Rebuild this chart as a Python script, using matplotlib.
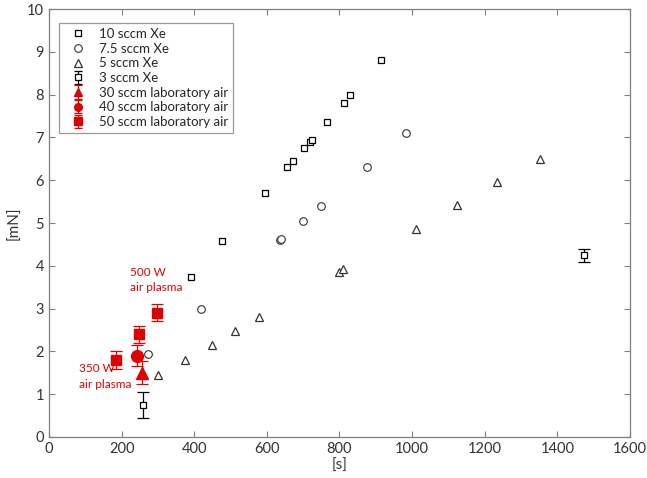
import numpy as np
from matplotlib import pyplot as plt
from matplotlib.lines import Line2D

plt.rcParams['font.family'] = ['Lato', 'DejaVu Sans']

# xenon runs: x = [s], y = [mN]
xe10_x = [390, 476, 595, 655, 672, 702, 719, 724, 766, 812, 829, 914]
xe10_y = [3.75, 4.57, 5.7, 6.3, 6.45, 6.75, 6.9, 6.95, 7.35, 7.8, 8.0, 8.8]

xe75_x = [272, 419, 636, 639, 700, 749, 876, 983]
xe75_y = [1.95, 3.0, 4.6, 4.62, 5.05, 5.4, 6.3, 7.1]

xe5_x = [300, 375, 450, 512, 578, 799, 811, 1011, 1123, 1235, 1352]
xe5_y = [1.45, 1.8, 2.16, 2.48, 2.8, 3.85, 3.92, 4.87, 5.42, 5.95, 6.5]

xe3_x = [258, 1472]
xe3_y = [0.74, 4.25]
xe3_err = [0.3, 0.15]

# laboratory air runs
air30_x = [257]
air30_y = [1.5]
air30_err = [0.27]

air40_x = [243]
air40_y = [1.9]
air40_err = [0.25]

air50_x = [184, 247, 298]
air50_y = [1.8, 2.4, 2.9]
air50_err = [0.2, 0.2, 0.2]

red = '#e00000'

fig = plt.figure(figsize=(6.47, 4.78), dpi=100)
ax = fig.add_axes([0.0757, 0.0858, 0.898, 0.8952])

ax.plot(xe10_x, xe10_y, 's', ms=4.2, mfc='white', mec='black', mew=0.9, ls='none', label='10 sccm Xe')
ax.plot(xe75_x, xe75_y, 'o', ms=5.5, mfc='white', mec='#333333', mew=0.8, ls='none', label='7.5 sccm Xe')
ax.plot(xe5_x, xe5_y, '^', ms=6, mfc='white', mec='#333333', mew=0.9, ls='none', label='5 sccm Xe')
ax.errorbar(xe3_x, xe3_y, yerr=xe3_err, fmt='s', ms=4.2, mfc='white', mec='black', mew=0.9,
            ecolor='black', elinewidth=0.9, capsize=4, capthick=0.9, label='3 sccm Xe')
ax.errorbar(air30_x, air30_y, yerr=air30_err, fmt='^', ms=9, color=red, ecolor=red,
            elinewidth=0.9, capsize=4, capthick=0.9, label='30 sccm laboratory air')
ax.errorbar(air40_x, air40_y, yerr=air40_err, fmt='o', ms=8.5, color=red, ecolor=red,
            elinewidth=0.9, capsize=4, capthick=0.9, label='40 sccm laboratory air')
ax.errorbar(air50_x, air50_y, yerr=air50_err, fmt='s', ms=6.5, color=red, ecolor=red,
            elinewidth=0.9, capsize=4, capthick=0.9, label='50 sccm laboratory air')

ax.text(223, 3.67, '500 W\nair plasma', color=red, fontsize=8.5, va='center', ha='left', linespacing=1.5)
ax.text(83, 1.41, '350 W\nair plasma', color=red, fontsize=8.5, va='center', ha='left', linespacing=1.5)

ax.set_xlim(0, 1600)
ax.set_ylim(0, 10)
ax.set_xticks(np.arange(0, 1601, 200))
ax.set_yticks(np.arange(0, 11, 1))
ax.tick_params(direction='in', top=True, right=True, length=4, width=0.8,
               color='#808080', labelcolor='#333333', labelsize=10.5)
for s in ax.spines.values():
    s.set_color('#808080')
    s.set_linewidth(0.9)

ax.set_xlabel('[s]', fontsize=11, color='#333333', labelpad=2)
ax.set_ylabel('[mN]', fontsize=11, color='#333333', labelpad=4)

leg = ax.legend(loc='upper left', bbox_to_anchor=(0.018, 0.968), fontsize=9.5, frameon=True,
                fancybox=False, edgecolor='#808080', borderpad=0.4, labelspacing=0.2,
                handletextpad=0.6, borderaxespad=0.0, handlelength=2.0)
leg.get_frame().set_linewidth(0.9)
for t in leg.get_texts():
    t.set_color('#262626')
# smaller red markers in the legend
for ln in leg.findobj(Line2D):
    if ln.get_markersize() > 6.2:
        ln.set_markersize(5.5)

fig.savefig('out.png', dpi=100)
